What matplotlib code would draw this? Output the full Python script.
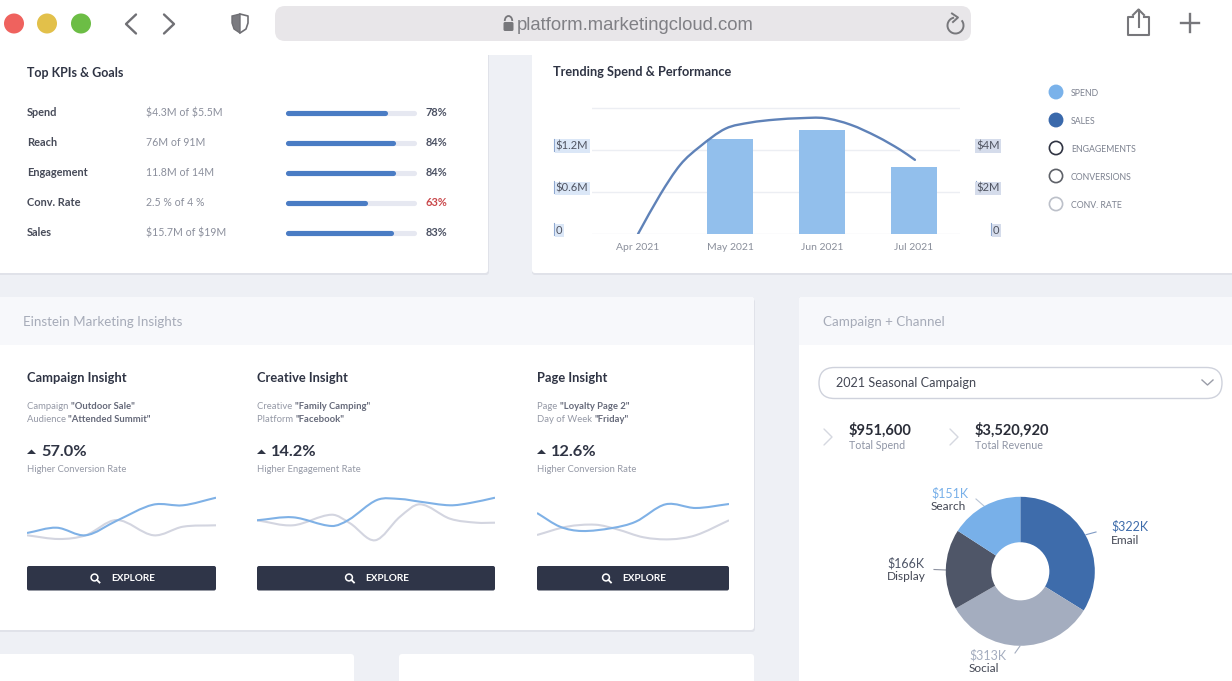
import matplotlib
matplotlib.use('Agg')
import matplotlib.pyplot as plt
from matplotlib.patches import FancyBboxPatch, Circle, Polygon, Rectangle, Arc, PathPatch
from matplotlib.path import Path
from matplotlib.transforms import ScaledTranslation

W, H = 1232, 681

plt.rcParams['font.family'] = ['Lato', 'DejaVu Sans']

# kpi table
kpi_names = ['Spend', 'Reach', 'Engagement', 'Conv. Rate', 'Sales']
kpi_goals = ['$4.3M of $5.5M', '76M of 91M', '11.8M of 14M', '2.5 % of 4 %', '$15.7M of $19M']
kpi_pct = [78, 84, 84, 63, 83]

# trending chart
months = ['Apr 2021', 'May 2021', 'Jun 2021', 'Jul 2021']
spend_m = [0, 1.35, 1.48, 0.95]
sales_pos = [0, 0.24, 0.46, 0.67, 0.95, 1.22, 1.49, 1.77, 2.03, 2.31, 2.6, 2.85, 3.01]
sales_m = [0, 1.86, 3.29, 4.14, 5.0, 5.29, 5.43, 5.5, 5.5, 5.19, 4.62, 4.0, 3.52]
legend_names = ['SPEND', 'SALES', 'ENGAGEMENTS', 'CONVERSIONS', 'CONV. RATE']

# insight cards
insight_titles = ['Campaign Insight', 'Creative Insight', 'Page Insight']
insight_line1 = [('Campaign ', '"Outdoor Sale"'), ('Creative ', '"Family Camping"'), ('Page ', '"Loyalty Page 2"')]
insight_line2 = [('Audience ', '"Attended Summit"'), ('Platform ', '"Facebook"'), ('Day of Week ', '"Friday"')]
insight_pct = ['57.0%', '14.2%', '12.6%']
insight_sub = ['Higher Conversion Rate', 'Higher Engagement Rate', 'Higher Conversion Rate']

spark1_blue_x = [0, 15.7, 31, 47.5, 66.7, 82.5, 100]
spark1_blue = [24, 34.6, 19.4, 48.6, 80.6, 79.4, 94.6]
spark1_grey_x = [0, 17, 31, 47.5, 67, 82.5, 100]
spark1_grey = [19.4, 12, 19.4, 50, 19.4, 36.6, 39.4]
spark2_blue_x = [0, 15.1, 31.4, 38.4, 50.4, 60.1, 68.5, 81.1, 89.5, 100]
spark2_blue = [49.4, 55.4, 38, 50, 90, 92, 86.6, 79.4, 84, 94.6]
spark2_grey_x = [0, 15.1, 31.4, 39.1, 49.6, 60.1, 68.5, 81.1, 92.3, 100]
spark2_grey = [49.4, 39.4, 60.6, 43.4, 9.4, 56.6, 81.4, 52.6, 44.6, 44.6]
spark3_blue_x = [0, 12, 23.3, 39.2, 51.4, 67, 82.6, 100]
spark3_blue = [64, 36.6, 28, 34, 46.6, 81.4, 74, 82]
spark3_grey_x = [0, 15.5, 30.4, 41.7, 55.5, 69.3, 82.6, 100]
spark3_grey = [20, 36.6, 40.6, 31.4, 15.4, 11.4, 19.4, 49.4]

# donut
channels = ['Email', 'Social', 'Display', 'Search']
channel_k = [322, 313, 166, 151]
channel_colors = ['#3e6cab', '#a4adbf', '#4f5668', '#78b0e9']

DARK = '#2f3444'
GREY = '#8b8f9c'
BLUE = '#4a7cc4'


def px_axes(x0, y0, x1, y1):
    ax = fig.add_axes([x0 / W, 1 - y1 / H, (x1 - x0) / W, (y1 - y0) / H])
    ax.patch.set_alpha(0)
    return ax


def smooth(x, y):
    # hermite curve through the read points, drawn as bezier segments
    n = len(x)
    m = []
    for i in range(n):
        a, b = max(i - 1, 0), min(i + 1, n - 1)
        m.append((y[b] - y[a]) / (x[b] - x[a]))
    verts = [(x[0], y[0])]
    codes = [Path.MOVETO]
    for i in range(n - 1):
        h = x[i + 1] - x[i]
        verts.append((x[i] + h / 3, y[i] + m[i] * h / 3))
        verts.append((x[i + 1] - h / 3, y[i + 1] - m[i + 1] * h / 3))
        verts.append((x[i + 1], y[i + 1]))
        codes += [Path.CURVE4] * 3
    return Path(verts, codes)


def card(x0, y0, x1, y1, color='white', shadow=True):
    if shadow:
        ui.add_patch(FancyBboxPatch((x0, y0 + 2), x1 - x0 + 1, y1 - y0, boxstyle='round,pad=0,rounding_size=3',
                                    fc='#e0e2e9', ec='none'))
    ui.add_patch(FancyBboxPatch((x0, y0), x1 - x0, y1 - y0, boxstyle='round,pad=0,rounding_size=3',
                                fc=color, ec='none'))


def two_tone(x, y, a, b):
    t = ui.text(x, y, a, fontsize=6.8, color='#9599a6', va='center')
    w = t.get_window_extent(fig.canvas.get_renderer()).width
    ui.text(x + w, y, b, fontsize=6.8, color='#666a7a', fontweight='bold', va='center')


def chevron(x0, x1, yc, half, color, lw=1.5):
    ui.plot([x0, x1, x0], [yc - half, yc, yc + half], color=color, lw=lw, solid_joinstyle='round',
            solid_capstyle='round')


fig = plt.figure(figsize=(W / 100, H / 100), dpi=100, facecolor='#eef0f5')
ui = fig.add_axes([0, 0, 1, 1])
ui.set_xlim(0, W)
ui.set_ylim(H, 0)
ui.axis('off')

# cards
card(-8, 40, 488, 273)
card(532, 40, 1245, 273)
card(-8, 297, 754, 630)
card(799, 297, 1245, 720)
ui.add_patch(FancyBboxPatch((-8, 297), 762, 48, boxstyle='round,pad=0,rounding_size=3', fc='#f7f8fb', ec='none'))
ui.add_patch(FancyBboxPatch((799, 297), 446, 48, boxstyle='round,pad=0,rounding_size=3', fc='#f7f8fb', ec='none'))
ui.add_patch(Rectangle((-8, 340), 762, 5, fc='#f7f8fb', ec='none'))
ui.add_patch(Rectangle((799, 340), 446, 5, fc='#f7f8fb', ec='none'))
card(-8, 654, 354, 720, shadow=False)
card(399, 654, 754, 720, shadow=False)

# browser bar
ui.add_patch(Rectangle((0, 0), W, 55, fc='white', ec='none'))
for cx, col in zip([14, 47, 81], ['#ef625e', '#e2c04a', '#6cbd45']):
    ui.add_patch(Circle((cx, 23.5), 10, fc=col, ec='none'))
chevron(136, 126, 24, 9.5, '#707075', 1.7)
chevron(164, 174, 24, 9.5, '#707075', 1.7)
ui.add_patch(Polygon([(232, 16), (240, 14), (240, 33), (234, 29), (232, 23)], fc='#7b7b80', ec='#6f6f74', lw=1))
ui.plot([240, 248, 248, 246, 240], [14, 16, 23, 29, 33], color='#6f6f74', lw=1.2)
ui.add_patch(FancyBboxPatch((275, 6), 696, 35, boxstyle='round,pad=0,rounding_size=10', fc='#e8e6e9', ec='none'))
ui.add_patch(FancyBboxPatch((503.5, 22), 10, 9, boxstyle='round,pad=0,rounding_size=1.5', fc='#77777b', ec='none'))
ui.add_patch(Arc((508.5, 21), 7.5, 10, theta1=180, theta2=360, ec='#77777b', lw=1.3))
ui.text(517, 25, 'platform.marketingcloud.com', fontsize=13.3, color='#808085', va='center',
        family=['Liberation Sans', 'DejaVu Sans'])
ui.add_patch(Arc((955.5, 25.5), 16, 16, theta1=320, theta2=260, ec='#77777b', lw=1.4))
ui.plot([952, 958, 953], [13.5, 17.5, 22], color='#77777b', lw=1.4)
ui.plot([1133, 1128, 1128, 1149, 1149, 1144], [17, 17, 35, 35, 17, 17], color='#77777b', lw=1.5,
        solid_joinstyle='round')
ui.plot([1138.5, 1138.5], [10, 27], color='#77777b', lw=1.5)
ui.plot([1133, 1138.5, 1144], [15, 9.5, 15], color='#77777b', lw=1.5)
ui.plot([1181, 1199], [23, 23], color='#77777b', lw=1.7)
ui.plot([1190, 1190], [14, 32], color='#77777b', lw=1.7)

# top kpis
ui.text(27, 73, 'Top KPIs & Goals', fontsize=9, fontweight='bold', color=DARK, va='center')
row_y = [112.5, 142.5, 172.5, 202.5, 232.5]
for y, name, goal, pct in zip(row_y, kpi_names, kpi_goals, kpi_pct):
    ui.text(27, y, name, fontsize=7.9, fontweight='bold', color='#474b59', va='center')
    ui.text(146, y, goal, fontsize=7.6, color=GREY, va='center', parse_math=False)
    ui.text(447, y, '%d%%' % pct, fontsize=7.9, fontweight='bold', color='#c9474a' if pct < 70 else '#4b5163',
            va='center', ha='right')

kpi_ax = px_axes(283.5, 105, 413.5, 240)
kpi_ax.set_xlim(0, 100)
kpi_ax.set_ylim(240, 105)
kpi_ax.axis('off')
bar_start = 3.2
for y, pct in zip(row_y, kpi_pct):
    kpi_ax.plot([bar_start, 100], [y, y], color='#e6e8f1', lw=3.7, solid_capstyle='round', clip_on=False)
    kpi_ax.plot([bar_start, pct], [y, y], color=BLUE, lw=3.7, solid_capstyle='round', clip_on=False)

# trending spend
ui.text(553, 72.5, 'Trending Spend & Performance', fontsize=9.2, fontweight='bold', color=DARK, va='center')
ax = px_axes(592, 107, 960, 234)
ax.set_xlim(-0.5, 3.5)
ax.set_ylim(0, 1.81)
ax.set_yticks([0, 0.6, 1.2, 1.8], ['0', '$0.6M', '$1.2M', ''])
ax.set_xticks(range(4), months)
ax.grid(axis='y', color='#eceef3', lw=1)
ax.set_axisbelow(True)
ax.bar(range(4), spend_m, width=0.5, color='#92bfec')
for s in ax.spines.values():
    s.set_visible(False)
ax.tick_params(axis='x', length=0, pad=6.5, labelsize=7.5, labelcolor='#8a8f9b')
ax.tick_params(axis='y', length=0, pad=26, labelsize=8, labelcolor='#4f5360')
nudge = ScaledTranslation(0, -2 / 100, fig.dpi_scale_trans)
for lab in ax.get_yticklabels():
    lab.set_ha('left')
    lab.set_va('bottom')
    lab.set_bbox(dict(fc='#dbe7f7', ec='none', pad=1))
    lab.set_transform(lab.get_transform() + nudge)

ax2 = ax.twinx()
ax2.patch.set_alpha(0)
ax2.set_ylim(0, 6.03)
ax2.set_yticks([0, 2, 4], ['0', '$2M', '$4M'])
for s in ax2.spines.values():
    s.set_visible(False)
ax2.tick_params(axis='y', length=0, pad=28.5, labelsize=8, labelcolor='#4f5360')
for lab in ax2.get_yticklabels():
    lab.set_ha('right')
    lab.set_va('bottom')
    lab.set_bbox(dict(fc='#d5dceb', ec='none', pad=1))
    lab.set_transform(lab.get_transform() + nudge)
ax2.add_patch(PathPatch(smooth(sales_pos, sales_m), fc='none', ec='#5f82b8', lw=1.7, capstyle='round'))

# selection marks beside the axis labels
for mx, my in [(553.5, 145), (553.5, 187), (553.5, 229), (975.5, 145), (975.5, 187), (990.5, 229)]:
    ui.plot([mx, mx], [my - 6, my + 6], color='#8fa8d0', lw=0.8)

legend_y = [92, 120, 148, 176, 204]
legend_fc = ['#7ab2ea', '#3a69ab', 'white', 'white', 'white']
legend_ec = ['#7ab2ea', '#3a69ab', '#2f3342', '#5e6168', '#bcc0c9']
for y, name, fc, ec in zip(legend_y, legend_names, legend_fc, legend_ec):
    ui.add_patch(Circle((1056, y), 6.6, fc=fc, ec=ec, lw=1.2))
    ui.text(1071, y + 1.3, name, fontsize=6.3, color='#7d8290', va='center')

# insights
ui.text(23, 321.5, 'Einstein Marketing Insights', fontsize=9.6, color='#a6abb8', va='center')
ins_x = [27, 257, 537]
btn_x1 = [216, 495, 729]
blue_x = [spark1_blue_x, spark2_blue_x, spark3_blue_x]
blue_y = [spark1_blue, spark2_blue, spark3_blue]
grey_x = [spark1_grey_x, spark2_grey_x, spark3_grey_x]
grey_y = [spark1_grey, spark2_grey, spark3_grey]
for i, x in enumerate(ins_x):
    ui.text(x, 377.5, insight_titles[i], fontsize=9.3, fontweight='bold', color=DARK, va='center')
    two_tone(x, 406.5, *insight_line1[i])
    two_tone(x, 419.5, *insight_line2[i])
    ui.add_patch(Polygon([(x, 454), (x + 4.5, 449.5), (x + 9, 454)], fc=DARK, ec='none'))
    ui.text(x + 14, 451.5, insight_pct[i], fontsize=11.8, fontweight='bold', color=DARK, va='center')
    ui.text(x, 469, insight_sub[i], fontsize=6.85, color='#9599a6', va='center')

    sp = px_axes(x, 495, btn_x1[i], 545)
    sp.set_xlim(0, 100)
    sp.set_ylim(0, 100)
    sp.axis('off')
    sp.add_patch(PathPatch(smooth(grey_x[i], grey_y[i]), fc='none', ec='#d3d5e0', lw=1.5))
    sp.add_patch(PathPatch(smooth(blue_x[i], blue_y[i]), fc='none', ec='#7fb1e6', lw=1.5))

    ui.add_patch(FancyBboxPatch((x, 566), btn_x1[i] - x, 24.5, boxstyle='round,pad=0,rounding_size=2',
                                fc='#2f3548', ec='none'))
    mid = (x + btn_x1[i]) / 2
    ui.add_patch(Circle((mid - 27, 577.5), 3.4, fc='none', ec='white', lw=1.1))
    ui.plot([mid - 24.5, mid - 22], [580, 582.5], color='white', lw=1.3)
    ui.text(mid - 10.5, 578.5, 'EXPLORE', fontsize=7.2, fontweight='bold', color='white', va='center', ha='left')

# campaign + channel
ui.text(823, 321.5, 'Campaign + Channel', fontsize=9.6, color='#a6abb8', va='center')
ui.add_patch(FancyBboxPatch((819, 367.5), 403, 31, boxstyle='round,pad=0,rounding_size=15.5', fc='white',
                            ec='#cfd2dc', lw=1))
ui.text(836, 383, '2021 Seasonal Campaign', fontsize=9.1, color='#444855', va='center')
ui.plot([1202, 1207.5, 1213], [380, 385, 380], color='#9a9da8', lw=1)
chevron(824, 832, 437, 8, '#d5d8e0', 1)
chevron(950, 958, 437, 8, '#d5d8e0', 1)
ui.text(849, 430, '$951,600', fontsize=10.5, fontweight='bold', color='#2a2d38', va='center')
ui.text(849, 445.5, 'Total Spend', fontsize=7.7, color='#8f95a5', va='center')
ui.text(975, 430, '$3,520,920', fontsize=10.5, fontweight='bold', color='#2a2d38', va='center')
ui.text(975, 445.5, 'Total Revenue', fontsize=7.7, color='#8f95a5', va='center')

pie_ax = px_axes(945.8, 496.8, 1094.8, 645.8)
pie_ax.pie(channel_k, colors=channel_colors, startangle=90, counterclock=False, radius=1,
           wedgeprops=dict(width=0.61))
pie_ax.set_xlim(-1, 1)
pie_ax.set_ylim(-1, 1)

pie_labels = {'Email': (1111, 526, '#3e6cab'), 'Social': (969, 655, '#a4adbf'),
              'Display': (887, 563, '#4f5668'), 'Search': (931, 493, '#78b0e9')}
for name, k in zip(channels, channel_k):
    lx, ly, col = pie_labels[name]
    ui.text(lx, ly, '$%dK' % k, fontsize=9, color=col, va='center')
    ui.text(lx, ly + 14, name, fontsize=8.6, color='#444855', va='center')
ui.plot([976, 984], [499, 506], color='#b8c4d4', lw=0.8)
ui.plot([1086, 1096], [534.7, 532], color='#7f9ac4', lw=0.8)
ui.plot([934, 946], [569.5, 570], color='#8d92a0', lw=0.8)
ui.plot([1020, 1015], [646, 653], color='#a4adbf', lw=0.8)

fig.savefig('out.png', dpi=100, facecolor=fig.get_facecolor())
